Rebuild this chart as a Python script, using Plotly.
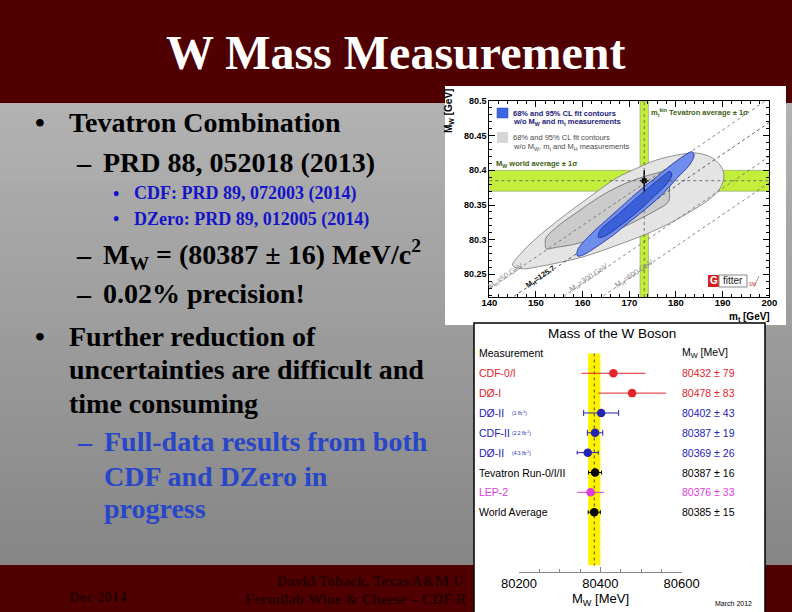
import plotly.graph_objects as go

W, H = 792, 612
SERIF = "Liberation Serif"
SANS = "Liberation Sans"


def X(p):
    return p / W


def Y(p):
    return 1 - p / H


# ====================== DATA ======================
# --- Gfitter plot: M_W vs m_t ---
mw_world_avg = 80.385
mw_world_err = 0.015
mt_tev_avg = 173.2
mt_tev_err = 0.9

# contour outlines (m_t [GeV], M_W [GeV])
gray95_mt = [145.0, 147.3, 150.9, 154.4, 158.7, 163.0, 167.3, 171.6, 175.9, 180.2, 184.4, 188.0,
             190.1, 190.1, 188.9, 186.3, 182.5, 178.5, 174.0, 169.0, 164.5, 160.0, 155.0, 150.5,
             147.0, 145.0]
gray95_mw = [80.263, 80.284, 80.307, 80.326, 80.348, 80.369, 80.389, 80.403, 80.415, 80.422, 80.425,
             80.417, 80.400, 80.384, 80.369, 80.354, 80.338, 80.323, 80.309, 80.296, 80.285, 80.275,
             80.267, 80.261, 80.258, 80.263]
gray68_mt = [152.0, 152.1, 154.4, 158.7, 163.0, 167.3, 171.6, 175.9, 178.0, 178.6, 178.6, 178.4,
             175.9, 172.3, 168.7, 165.2, 161.6, 158.0, 154.4, 152.2, 152.0]
gray68_mw = [80.295, 80.302, 80.318, 80.339, 80.359, 80.3755, 80.3875, 80.396, 80.399, 80.391,
             80.372, 80.355, 80.343, 80.330, 80.318, 80.308, 80.2995, 80.293, 80.289, 80.287, 80.295]
blue95_mt = [158.9, 158.9, 161.6, 165.1, 168.7, 172.3, 175.9, 179.4, 182.3, 183.4, 183.9, 182.9,
             180.2, 177.3, 173.7, 170.1, 166.6, 163.0, 160.1, 158.9]
blue95_mw = [80.2764, 80.285, 80.3067, 80.3284, 80.35, 80.3716, 80.3908, 80.410, 80.4236, 80.4269,
             80.4221, 80.4077, 80.3885, 80.3669, 80.3452, 80.326, 80.3067, 80.2898, 80.2779, 80.2764]
blue68_mt = [163.4, 163.7, 167.3, 170.9, 174.4, 177.6, 178.7, 179.1, 178.0, 175.1, 171.6, 168.0,
             164.8, 163.4]
blue68_mw = [80.3034, 80.3129, 80.3346, 80.3562, 80.3764, 80.3937, 80.3986, 80.3933, 80.3803,
             80.3611, 80.3394, 80.3201, 80.3053, 80.3034]

# M_H iso-lines (end points)
mh_labels = ["M<sub>H</sub>=50 GeV", "M<sub>H</sub>=125.7", "M<sub>H</sub>=300 GeV", "M<sub>H</sub>=600 GeV"]
mh_line_mt = [140, 200]
mh_mw_at_140 = [80.229, 80.194, 80.145, 80.107]
mh_mw_at_200 = [80.504, 80.469, 80.420, 80.382]
mh_label_mt = [143.6, 151.0, 161.3, 171.0]
mh_label_mw = [80.247, 80.246, 80.244, 80.251]

gf_xticks = [140, 150, 160, 170, 180, 190, 200]
gf_yticks = [80.25, 80.3, 80.35, 80.4, 80.45, 80.5]
gf_yticklabels = ["80.25", "80.3", "80.35", "80.4", "80.45", "80.5"]

# --- W mass ideogram ---
measurements = ["CDF-0/I", "DØ-I", "DØ-II", "CDF-II", "DØ-II",
                "Tevatron Run-0/I/II", "LEP-2", "World Average"]
lumi_notes = ["", "", "(1 fb<sup>-1</sup>)", "(2.2 fb<sup>-1</sup>)", "(4.3 fb<sup>-1</sup>)", "", "", ""]
mw_values = [80432, 80478, 80402, 80387, 80369, 80387, 80376, 80385]
mw_errors = [79, 83, 43, 19, 26, 16, 33, 15]
world_avg = 80385
world_err = 15
id_xticks = [80200, 80400, 80600]
id_xticklabels = ["80200", "80400", "80600"]

RED, BLUE, BLACK, MAG = "#e3242b", "#2323b4", "#000000", "#dc3cdc"
row_colors = [RED, RED, BLUE, BLUE, BLUE, BLACK, MAG, BLACK]
row_caps = [0, 0, 3, 3, 2, 2, 0, 2]

# --- slide text ---
title_text = "W Mass Measurement"

# ====================== FIGURE ======================
fig = go.Figure()
shapes = []
ann = []

# --- slide background ---
shapes.append(dict(type="rect", xref="paper", yref="paper", x0=0, x1=1, y0=Y(103), y1=1,
                   fillcolor="#500000", line_width=0, layer="below"))
n_strip = 42
g_top, g_bot = 103, 565
h = (g_bot - g_top) / n_strip
for k in range(n_strip):
    t = k / (n_strip - 1)
    c = int(round(178 + (134 - 178) * t))
    shapes.append(dict(type="rect", xref="paper", yref="paper", x0=0, x1=1,
                       y0=Y(min(g_bot, g_top + (k + 1) * h + 2)), y1=Y(g_top + k * h),
                       fillcolor=f"rgb({c},{c},{c})", line_width=0, layer="below"))
shapes.append(dict(type="rect", xref="paper", yref="paper", x0=0, x1=1, y0=0, y1=Y(565),
                   fillcolor="#500000", line_width=0, layer="below"))
# picture panels
shapes.append(dict(type="rect", xref="paper", yref="paper", x0=X(445), x1=X(786), y0=Y(325), y1=Y(86),
                   fillcolor="white", line_width=0, layer="below"))
shapes.append(dict(type="rect", xref="paper", yref="paper", x0=X(474), x1=X(765), y0=Y(613), y1=Y(323),
                   fillcolor="white", line=dict(color="black", width=1.5), layer="below"))

# --- Gfitter bands ---
GREEN = "#c3ee3c"
shapes.append(dict(type="rect", xref="x", yref="y", x0=140, x1=200,
                   y0=mw_world_avg - mw_world_err, y1=mw_world_avg + mw_world_err,
                   fillcolor=GREEN, line=dict(color="#8a9a70", width=0.6), layer="below"))
shapes.append(dict(type="rect", xref="x", yref="y", x0=mt_tev_avg - mt_tev_err, x1=mt_tev_avg + mt_tev_err,
                   y0=80.2, y1=80.5, fillcolor=GREEN, line=dict(color="#8a9a70", width=0.6), layer="below"))

# contours
fig.add_trace(go.Scatter(x=gray95_mt, y=gray95_mw, mode="lines", fill="toself", fillcolor="#e4e4e4",
                         line=dict(color="#7a7a7a", width=0.8, shape="spline"), xaxis="x", yaxis="y",
                         hoverinfo="skip"))
fig.add_trace(go.Scatter(x=gray68_mt, y=gray68_mw, mode="lines", fill="toself", fillcolor="#cbcbcb",
                         line=dict(color="#6a6a6a", width=0.8, shape="spline"), xaxis="x", yaxis="y",
                         hoverinfo="skip"))
# M_H lines
for i in range(len(mh_labels)):
    fig.add_trace(go.Scatter(x=mh_line_mt, y=[mh_mw_at_140[i], mh_mw_at_200[i]], mode="lines",
                             line=dict(color="#333333" if i == 1 else "#666666", width=0.8, dash="dot"),
                             xaxis="x", yaxis="y", hoverinfo="skip"))
fig.add_trace(go.Scatter(x=blue95_mt, y=blue95_mw, mode="lines", fill="toself", fillcolor="#6f8deb",
                         line=dict(color="#1c2c9c", width=0.8, shape="spline"), xaxis="x", yaxis="y",
                         hoverinfo="skip"))
fig.add_trace(go.Scatter(x=blue68_mt, y=blue68_mw, mode="lines", fill="toself", fillcolor="#3a60da",
                         line=dict(color="#1c2c9c", width=0.8, shape="spline"), xaxis="x", yaxis="y",
                         hoverinfo="skip"))
# dotted centre lines
shapes.append(dict(type="line", xref="x", yref="y", x0=140, x1=200, y0=mw_world_avg, y1=mw_world_avg,
                   line=dict(color="#555555", width=0.8, dash="dot"), layer="above"))
shapes.append(dict(type="line", xref="x", yref="y", x0=mt_tev_avg, x1=mt_tev_avg, y0=80.2, y1=80.5,
                   line=dict(color="#555555", width=0.8, dash="dot"), layer="above"))
# measured point
fig.add_trace(go.Scatter(x=[mt_tev_avg], y=[mw_world_avg], mode="markers",
                         marker=dict(symbol="square", size=5, color="black"),
                         error_x=dict(type="data", array=[mt_tev_err], color="black", thickness=1.5, width=0),
                         error_y=dict(type="data", array=[mw_world_err], color="black", thickness=1.5, width=0),
                         xaxis="x", yaxis="y", hoverinfo="skip"))

for i, lab in enumerate(mh_labels):
    ann.append(dict(xref="x", yref="y", x=mh_label_mt[i], y=mh_label_mw[i], text=lab, showarrow=False,
                    textangle=-34, font=dict(family=SANS, size=7.5, color="#111111" if i == 1 else "#8a8a8a",
                                             weight="bold" if i == 1 else "normal")))

# Gfitter legend & labels
shapes.append(dict(type="rect", xref="paper", yref="paper", x0=X(497), x1=X(508), y0=Y(118), y1=Y(108),
                   fillcolor="#3d66e0", line=dict(color="#2a4ac0", width=0.5)))
shapes.append(dict(type="rect", xref="paper", yref="paper", x0=X(497), x1=X(508), y0=Y(143), y1=Y(132),
                   fillcolor="#d6d6d6", line_width=0))


def small(x, y, s, size, color, weight="bold", family=SANS, xanchor="left", angle=0):
    return dict(xref="paper", yref="paper", x=X(x), y=Y(y), text=s, showarrow=False, xanchor=xanchor,
                yanchor="middle", textangle=angle, borderpad=0,
                font=dict(family=family, size=size, color=color, weight=weight))


ann.append(small(512, 113, "68% and 95% CL fit contours", 7.5, "#1b1b7a"))
ann.append(small(512, 122, "w/o M<sub>W</sub> and m<sub>t</sub> measurements", 7.5, "#1b1b7a"))
ann.append(small(512, 138, "68% and 95% CL fit contours", 7.5, "#4a4a4a", weight="normal"))
ann.append(small(512, 146.5, "w/o M<sub>W</sub>, m<sub>t</sub> and M<sub>H</sub> measurements", 7.5,
                 "#4a4a4a", weight="normal"))
ann.append(small(495, 164, "M<sub>W</sub> world average ± 1σ", 7.5, "#3b5e12"))
ann.append(small(650, 112, "m<sub>t</sub><sup>kin</sup> Tevatron average ± 1σ", 7.5, "#3b5e12"))
ann.append(small(449, 111, "M<sub>W</sub> [GeV]", 10, "black", xanchor="center", angle=-90))
ann.append(small(771, 317, "m<sub>t</sub> [GeV]", 10, "black", xanchor="right"))
# Gfitter logo
shapes.append(dict(type="rect", xref="paper", yref="paper", x0=X(708), x1=X(719), y0=Y(287), y1=Y(275),
                   fillcolor="#d42020", line_width=0))
shapes.append(dict(type="rect", xref="paper", yref="paper", x0=X(719), x1=X(747), y0=Y(287), y1=Y(275),
                   fillcolor="white", line=dict(color="#888888", width=1)))
shapes.append(dict(type="line", xref="paper", yref="paper", x0=X(754), x1=X(759), y0=Y(287), y1=Y(276),
                   line=dict(color="#999999", width=1)))
ann.append(small(713.5, 281, "G", 10, "white", xanchor="center"))
ann.append(small(733, 281, "fitter", 10, "#222222", weight="normal", xanchor="center"))
ann.append(small(747.5, 284, "SM", 4.5, "#c83030", weight="normal"))

# --- W mass ideogram ---
shapes.append(dict(type="rect", xref="x2", yref="y2", x0=world_avg - world_err, x1=world_avg + world_err,
                   y0=-1.0, y1=9.68, fillcolor="#fff200", line_width=0, layer="below"))
shapes.append(dict(type="line", xref="x2", yref="y2", x0=world_avg, x1=world_avg, y0=-1.0, y1=9.68,
                   line=dict(color="#444444", width=1, dash="dot"), layer="below"))
for i in range(len(measurements)):
    fig.add_trace(go.Scatter(x=[mw_values[i]], y=[i], mode="markers",
                             marker=dict(size=8.5, color=row_colors[i]),
                             error_x=dict(type="data", array=[mw_errors[i]], color=row_colors[i],
                                          thickness=1, width=row_caps[i]),
                             xaxis="x2", yaxis="y2", hoverinfo="skip", cliponaxis=False))
    ann.append(dict(xref="paper", yref="y2", x=X(478), y=i, text=measurements[i], showarrow=False,
                    xanchor="left", yanchor="middle", borderpad=0,
                    font=dict(family=SANS, size=10.5, color=row_colors[i])))
    if lumi_notes[i]:
        ann.append(dict(xref="paper", yref="y2", x=X(511), y=i, text=lumi_notes[i], showarrow=False,
                        xanchor="left", yanchor="middle", borderpad=0,
                        font=dict(family=SANS, size=5, color=row_colors[i])))
    ann.append(dict(xref="paper", yref="y2", x=X(680.5), y=i,
                    text=f"{mw_values[i]} ± {mw_errors[i]}", showarrow=False,
                    xanchor="left", yanchor="middle", borderpad=0,
                    font=dict(family=SANS, size=10.5, color=row_colors[i])))
ann.append(dict(xref="paper", yref="y2", x=X(478), y=-1, text="Measurement", showarrow=False,
                xanchor="left", yanchor="middle", borderpad=0, font=dict(family=SANS, size=10.5, color="black")))
ann.append(dict(xref="paper", yref="y2", x=X(680.5), y=-1, text="M<sub>W</sub> [MeV]", showarrow=False,
                xanchor="left", yanchor="middle", borderpad=0, font=dict(family=SANS, size=10.5, color="black")))
ann.append(small(612, 334, "Mass of the W Boson", 13.5, "black", weight="normal", xanchor="center"))
ann.append(small(600, 599, "M<sub>W</sub> [MeV]", 13, "black", weight="normal", xanchor="center"))
ann.append(small(733, 603, "March 2012", 7, "black", weight="normal", xanchor="center"))


# --- slide text ---
def line(xleft, baseline, s, size, color, xanchor="left", k=0.31):
    return dict(xref="paper", yref="paper", x=X(xleft), y=Y(baseline - k * size), text=s,
                showarrow=False, xanchor=xanchor, yanchor="middle", borderpad=0,
                font=dict(family=SERIF, size=size, color=color, weight="bold"))


ann.append(line(396, 70, title_text, 48, "white", xanchor="center", k=0.36))
L1, L2, L3 = 28, 28, 18
TXT, B3, B2 = "black", "#1414c8", "#2846c8"
ann.append(line(40, 130.7, "•", L1, TXT, xanchor="center"))
ann.append(line(68.3, 130.7, "Tevatron Combination", L1, TXT))
ann.append(line(84, 171, "–", L2, TXT, xanchor="center"))
ann.append(line(101.7, 171, "PRD 88, 052018 (2013)", L2, TXT))
ann.append(line(116, 199.3, "•", L3, B3, xanchor="center"))
ann.append(line(133.3, 199.3, "CDF: PRD 89, 072003 (2014)", L3, B3))
ann.append(line(116, 224.7, "•", L3, B3, xanchor="center"))
ann.append(line(133.3, 224.7, "DZero: PRD 89, 012005 (2014)", L3, B3))
ann.append(line(84, 263.3, "–", L2, TXT, xanchor="center"))
ann.append(line(101.7, 263.3, "M<sub>W</sub> = (80387 ± 16) MeV/c<sup>2</sup>", L2, TXT))
ann.append(line(84, 302.3, "–", L2, TXT, xanchor="center"))
ann.append(line(101.7, 302.3, "0.02% precision!", L2, TXT))
ann.append(line(40, 345, "•", L1, TXT, xanchor="center"))
ann.append(line(68.3, 345, "Further reduction of", L1, TXT))
ann.append(line(68.3, 378.3, "uncertainties are difficult and", L1, TXT))
ann.append(line(68.3, 411.7, "time consuming", L1, TXT))
ann.append(line(85, 450, "–", L2, B2, xanchor="center"))
ann.append(line(103.3, 450, "Full-data results from both", L2, B2))
ann.append(line(103.3, 485, "CDF and DZero in", L2, B2))
ann.append(line(103.3, 516.7, "progress", L2, B2))
ann.append(line(98, 602, "Dec 2014", 15, "#260000", xanchor="center"))

# footer text clipped by the lower picture
footer_lines = ["David Toback, Texas A&M U", "Fermilab Wine & Cheese – CDF R"]
footer_x = [276.7, 245]
footer_y = [582, 600.5]
fig.add_trace(go.Scatter(x=footer_x, y=footer_y, mode="text", text=footer_lines,
                         textposition="middle right", cliponaxis=True,
                         textfont=dict(family=SERIF, size=15, color="#260000", weight="bold"),
                         xaxis="x3", yaxis="y3", hoverinfo="skip"))

fig.update_layout(
    width=W, height=H, margin=dict(l=0, r=0, t=0, b=0, pad=0, autoexpand=False),
    paper_bgcolor="#500000", plot_bgcolor="rgba(0,0,0,0)", showlegend=False,
    shapes=shapes, annotations=ann,
    xaxis=dict(domain=[X(489.3), X(769.3)], range=[140, 200], anchor="y",
               tickvals=gf_xticks, ticks="inside", ticklen=6, tickwidth=1, tickcolor="black",
               minor=dict(ticks="inside", ticklen=3, dtick=2, tick0=140, tickcolor="black"),
               showline=True, linecolor="black", linewidth=1, mirror="ticks", showgrid=False,
               zeroline=False, ticklabelstandoff=-3, automargin=False,
               tickfont=dict(family=SANS, size=9.5, color="black", weight="bold")),
    yaxis=dict(domain=[Y(297), Y(101)], range=[80.2173, 80.5], anchor="x",
               tickvals=gf_yticks, ticktext=gf_yticklabels, ticks="inside", ticklen=6, tickwidth=1,
               tickcolor="black", automargin=False,
               minor=dict(ticks="inside", ticklen=3, dtick=0.01, tick0=80.2, tickcolor="black"),
               showline=True, linecolor="black", linewidth=1, mirror="ticks", showgrid=False,
               zeroline=False, tickfont=dict(family=SANS, size=9, color="black", weight="bold")),
    xaxis2=dict(domain=[X(519), X(681.7)], range=[80200, 80600], anchor="y2", automargin=False,
                tickvals=id_xticks, ticktext=id_xticklabels, ticks="inside", ticklen=5, tickcolor="#888888",
                minor=dict(ticks="inside", ticklen=2.5, dtick=50, tick0=80200, tickcolor="#888888"),
                showline=True, linecolor="#888888", linewidth=1, showgrid=False, zeroline=False,
                tickfont=dict(family=SANS, size=13, color="black")),
    yaxis2=dict(domain=[Y(571.7), Y(345)], range=[9.999, -1.425], anchor="x2", visible=False),
    xaxis3=dict(domain=[0, X(474)], range=[0, 474], anchor="y3", visible=False),
    yaxis3=dict(domain=[0, Y(565)], range=[612, 565], anchor="x3", visible=False),
)

fig.write_html("out.html", config={"displayModeBar": False},
               post_script="document.body.style.margin='0';document.body.style.overflow='hidden';")
